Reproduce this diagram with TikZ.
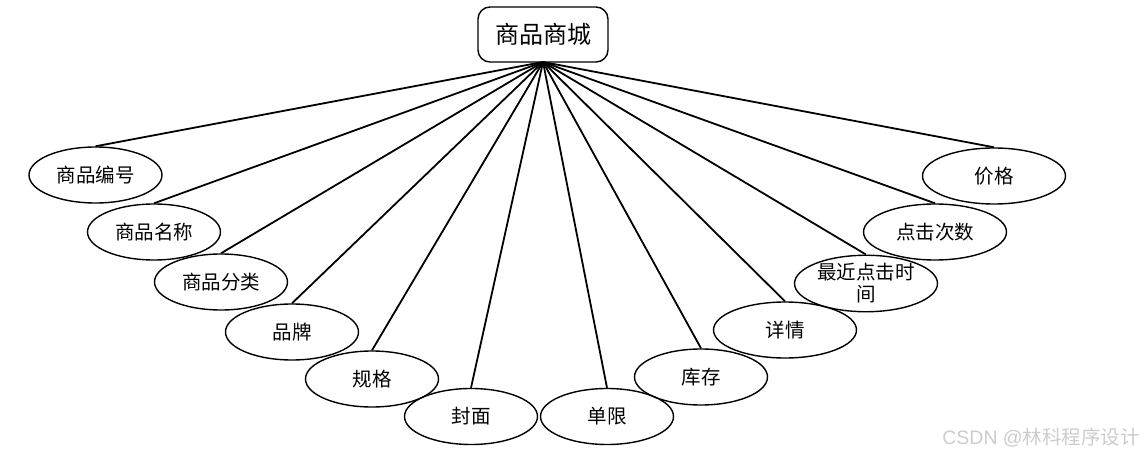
\documentclass[tikz,border=0pt]{standalone}
\usepackage{fontspec}
\setmainfont{Liberation Serif}
\setsansfont{Liberation Sans}
\newfontfamily\cjk{Noto Sans CJK SC}
\usetikzlibrary{shapes.geometric}
\begin{document}
\begin{tikzpicture}[x=1pt,y=-1pt,
  attr/.style={draw,line width=1.4pt,ellipse,inner sep=0pt,minimum width=133pt,minimum height=56pt,font=\cjk\fontsize{19.5}{21}\selectfont,align=center},
  attrw/.style={attr,minimum width=143pt},
  conn/.style={line width=1.8pt},
  ]
\useasboundingbox (0,0) rectangle (1145,457);
\node[draw,line width=1.4pt,rounded corners=12pt,minimum width=130pt,minimum height=55pt,inner sep=0pt,font=\cjk\fontsize{24}{26}\selectfont] (root) at (543,34.5) {商品商城};
\coordinate (apex) at (543,62);
\node[attr] (a1) at (95.5,175) {商品编号};
\node[attr] (a2) at (154,232) {商品名称};
\node[attr] (a3) at (221,282) {商品分类};
\node[attr] (a4) at (292,332) {品牌};
\node[attr] (a5) at (372,379) {规格};
\node[attr] (a6) at (471,416.5) {封面};
\node[attr] (a7) at (607,416.5) {单限};
\node[attr] (a8) at (701,377) {库存};
\node[attrw] (a9) at (785,330) {详情};
\node[attrw,minimum height=54pt] (a10) at (866,283.5) {最近点击时\\[1pt]间};
\node[attrw] (a11) at (935,232) {点击次数};
\node[attrw] (a12) at (994,176) {价格};
\foreach \i in {1,...,12} {\draw[conn] (apex) -- (a\i.north);}
\node[text=black!20,font=\fontsize{19.5}{21}\selectfont,anchor=east,inner sep=0pt] (wm) at (1140,438) {\sffamily CSDN @{\cjk 林科程序设计}};
\end{tikzpicture}
\end{document}
